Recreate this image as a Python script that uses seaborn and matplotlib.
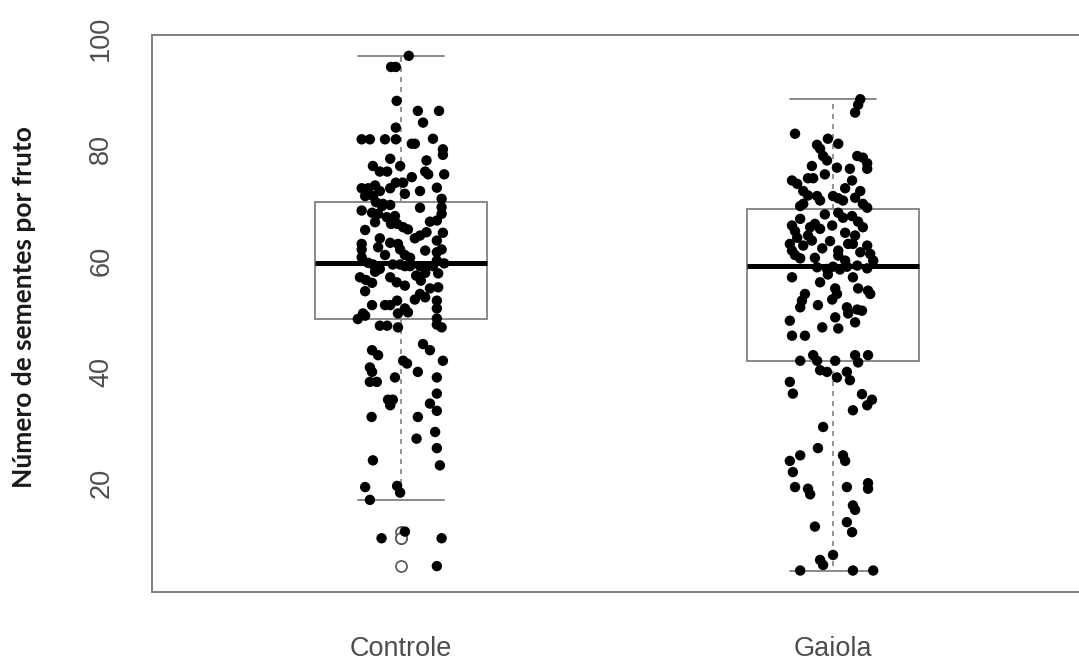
import numpy as np
import pandas as pd
import matplotlib
matplotlib.use("Agg")
import matplotlib.pyplot as plt
import seaborn as sns

# grupos e valores (numero de sementes por fruto)
grupos = ["Controle", "Gaiola"]

controle_sementes = [
    96.8, 94.8, 94.8, 88.7, 86.9, 86.9, 84.8, 83.9, 81.8, 81.8, 81.8, 81.8,
    81.0, 81.0, 81.9, 80.0, 79.0, 78.0, 78.3, 77.0, 76.0, 76.0, 77.0, 76.0,
    75.5, 75.0, 74.0, 74.0, 73.1, 73.0, 73.0, 73.5, 72.5, 72.0, 71.6, 71.6,
    71.1, 70.5, 69.8, 70.0, 69.6, 69.0, 68.6, 68.4, 67.8, 68.4, 67.2, 67.0,
    66.6, 66.6, 66.0, 65.6, 66.9, 65.1, 64.0, 63.6, 63.0, 62.0, 63.2, 63.0,
    62.4, 62.0, 61.5, 61.0, 60.5, 60.6, 59.6, 59.3, 59.3, 59.3, 59.0, 59.0,
    59.0, 59.0, 59.0, 60.0, 57.0, 56.5, 56.0, 56.1, 57.3, 56.4, 57.7, 55.2,
    54.0, 53.4, 52.0, 52.0, 52.8, 52.0, 50.5, 51.4, 50.7, 52.8, 51.4, 49.6,
    49.5, 50.1, 48.3, 48.3, 48.0, 48.5, 48.0, 45.0, 43.9, 43.9, 43.0, 42.0,
    41.5, 42.0, 40.8, 40.0, 40.0, 39.0, 38.2, 38.2, 39.0, 36.1, 35.0, 35.0,
    34.0, 34.3, 33.0, 31.9, 31.9, 29.2, 28.0, 26.3, 24.1, 23.2, 19.3, 17.0,
    19.5, 18.3, 10.1, 11.3, 10.1, 5.1,
    70.2, 69.5, 68.0, 65.5, 64.5, 64.0, 62.0, 61.8, 61.0, 65.0,
    58.5, 57.8, 57.0, 55.5, 54.5, 53.0, 50.5, 55.0, 58.0, 59.5,
    73.0, 72.5, 75.5,
]
# deslocamento horizontal (jitter) de cada ponto, em unidades de categoria
controle_jitter = [
    0.018, -0.023, -0.012, -0.010, 0.039, 0.088, 0.051, -0.012, -0.091, -0.072, -0.037, -0.012,
    0.025, 0.032, 0.074, 0.097, 0.097, 0.059, -0.025, -0.065, -0.049, -0.032, -0.002, 0.056,
    0.063, 0.025, -0.012, 0.005, 0.083, -0.091, -0.076, -0.060, -0.049, 0.009, -0.083, -0.065,
    0.094, -0.058, -0.044, -0.025, 0.094, -0.091, -0.067, -0.053, -0.033, 0.094, 0.083, 0.067,
    -0.023, -0.009, 0.005, 0.016, -0.060, 0.059, 0.032, 0.083, -0.091, -0.091, -0.025, -0.007,
    -0.053, 0.094, 0.083, 0.009, 0.021, -0.091, -0.076, -0.065, -0.019, -0.002, 0.009, 0.021,
    0.044, 0.060, 0.074, 0.083, -0.095, -0.081, -0.067, -0.010, 0.035, 0.046, 0.086, 0.086,
    0.044, 0.056, -0.037, -0.025, -0.009, -0.067, -0.088, 0.009, 0.016, 0.083, 0.083, 0.083,
    -0.100, -0.083, -0.049, -0.032, -0.007, 0.083, 0.094, 0.051, 0.067, -0.067, -0.053, 0.005,
    0.014, 0.097, -0.072, -0.067, 0.039, -0.014, -0.072, -0.056, 0.083, 0.083, -0.030, -0.019,
    -0.025, 0.067, 0.083, -0.068, 0.039, 0.079, 0.036, 0.083, -0.065, 0.090, -0.083, -0.072,
    -0.009, -0.002, -0.045, 0.009, 0.094, 0.083,
    -0.042, 0.044, -0.014, -0.083, 0.044, -0.049, -0.002, 0.056, -0.037, 0.097,
    -0.049, 0.056, -0.025, 0.009, -0.083, 0.032, -0.007, 0.067, -0.060, 0.100,
    -0.025, 0.044, 0.100,
]

gaiola_sementes = [
    89.0, 88.0, 86.6, 82.8, 81.9, 81.0, 80.8, 80.1, 78.8, 78.0, 78.8, 78.5,
    77.5, 76.5, 76.7, 76.5, 74.4, 74.4, 73.8, 74.8, 74.8, 72.5, 71.7, 71.6,
    70.8, 71.6, 71.2, 70.8, 71.3, 70.2, 69.5, 70.2, 68.6, 67.7, 68.0, 67.0,
    66.3, 65.3, 64.1, 66.6, 65.7, 66.3, 66.0, 64.5, 63.6, 62.7, 61.8, 61.0,
    60.4, 62.2, 61.8, 60.9, 63.0, 63.0, 62.7, 61.2, 60.0, 58.8, 58.5, 58.9,
    58.4, 58.9, 59.1, 58.6, 57.0, 56.1, 55.0, 54.0, 53.0, 57.0, 55.0, 54.6,
    54.0, 54.0, 52.8, 51.6, 52.0, 51.6, 50.5, 51.2, 51.0, 49.8, 49.2, 46.5,
    48.0, 47.8, 48.9, 46.5, 42.0, 43.0, 42.0, 42.0, 43.0, 41.7, 43.0, 40.3,
    40.0, 39.0, 40.0, 38.5, 38.2, 36.1, 36.0, 34.0, 35.0, 33.1, 30.1, 26.3,
    25.0, 24.0, 22.0, 25.0, 24.0, 19.3, 19.0, 18.0, 19.3, 20.0, 19.0, 16.0,
    15.2, 12.2, 13.0, 11.2, 7.1, 6.2, 5.3, 4.3, 4.3, 4.3,
    77.0, 73.0, 75.5, 72.5, 69.8,
    67.5, 68.3, 65.0, 66.0, 64.5, 63.5, 63.0, 61.5, 60.5, 60.0, 57.5,
]
gaiola_jitter = [
    0.063, 0.058, 0.051, -0.088, -0.012, 0.012, -0.037, -0.030, -0.023, -0.014, 0.056, 0.069,
    0.079, 0.079, 0.009, 0.039, 0.044, -0.095, -0.083, -0.058, -0.046, -0.069, -0.058, -0.037,
    -0.030, 0.000, 0.012, 0.023, 0.051, 0.069, 0.079, -0.069, 0.012, 0.023, 0.044, 0.058,
    -0.095, -0.088, -0.083, -0.042, -0.030, -0.002, 0.069, -0.058, -0.049, -0.069, -0.095, -0.088,
    -0.076, -0.025, 0.012, 0.012, 0.035, 0.046, 0.079, 0.086, 0.093, -0.037, -0.014, 0.000,
    0.016, 0.032, 0.056, 0.079, -0.095, -0.030, 0.005, 0.009, -0.002, 0.046, 0.058, 0.081,
    0.086, -0.065, -0.072, -0.076, -0.035, 0.032, 0.035, 0.056, 0.067, 0.005, -0.100, -0.095,
    -0.025, 0.012, 0.051, -0.065, -0.076, -0.046, -0.037, 0.005, 0.051, 0.058, 0.081, -0.030,
    -0.014, 0.009, 0.032, 0.039, -0.100, -0.093, 0.067, 0.079, 0.090, 0.046, -0.023, -0.035,
    -0.076, -0.100, -0.093, 0.023, 0.028, -0.088, -0.058, -0.053, 0.032, 0.081, 0.081, 0.046,
    0.051, -0.042, 0.032, 0.044, 0.000, -0.030, -0.023, -0.076, 0.046, 0.093,
    -0.049, 0.028, -0.019, 0.063, -0.076,
    -0.076, -0.019, 0.028, -0.053, 0.051, -0.007, -0.100, 0.063, -0.042, 0.028, -0.012,
]

df = pd.DataFrame({
    "grupo": [grupos[0]] * len(controle_sementes) + [grupos[1]] * len(gaiola_sementes),
    "sementes": controle_sementes + gaiola_sementes,
    "jitter": controle_jitter + gaiola_jitter,
})
df["grupo"] = pd.Categorical(df["grupo"], categories=grupos)
df["x"] = df["grupo"].cat.codes + df["jitter"]

sns.set_theme(style="white")
plt.rcParams["font.family"] = ["Liberation Sans", "DejaVu Sans"]

cinza = "#808080"
fig = plt.figure(figsize=(10.79, 6.66), dpi=100)
ax = fig.add_axes([0.1406, 0.1116, 0.8637, 0.8359])

# whis um pouco maior para imitar as "hinges" do R (bigode inferior em 17)
sns.boxplot(data=df, x="grupo", y="sementes", order=grupos, width=0.4,
            color="white", linecolor=cinza, linewidth=1.3, whis=1.6, ax=ax,
            boxprops=dict(facecolor="white", edgecolor=cinza, linewidth=1.3),
            medianprops=dict(color="black", linewidth=3.6),
            whiskerprops=dict(color=cinza, linewidth=1.2, linestyle=(0, (3, 3))),
            capprops=dict(color=cinza, linewidth=1.3),
            flierprops=dict(marker="o", markersize=8, markerfacecolor="white",
                            markeredgecolor="#555555", markeredgewidth=1.2))

sns.scatterplot(data=df, x="x", y="sementes", color="black", s=56,
                edgecolor="none", legend=False, ax=ax, zorder=4)

ax.set_xlim(-0.577, 1.580)
ax.set_ylim(0.5, 100.55)
ax.set_xticks([0, 1], grupos)
ax.set_yticks([20, 40, 60, 80, 100])
ax.set_xlabel("")
ax.set_ylabel("Número de sementes por fruto", family=["Lato", "DejaVu Sans"],
              fontweight="bold", fontsize=19, color="#1a1a1a")
ax.yaxis.set_label_coords(-0.124, 0.511)

for s in ax.spines.values():
    s.set_visible(True)
    s.set_color(cinza)
    s.set_linewidth(1.4)

ax.tick_params(axis="both", which="major", direction="out", color=cinza, width=1.3,
               labelcolor="#4d4d4d", labelsize=19.5)
ax.tick_params(axis="y", length=13, pad=14, labelrotation=90)
ax.tick_params(axis="x", length=14.4, pad=17.5)
for t in ax.get_yticklabels():
    t.set_verticalalignment("center")

fig.savefig("out.png", dpi=100)
